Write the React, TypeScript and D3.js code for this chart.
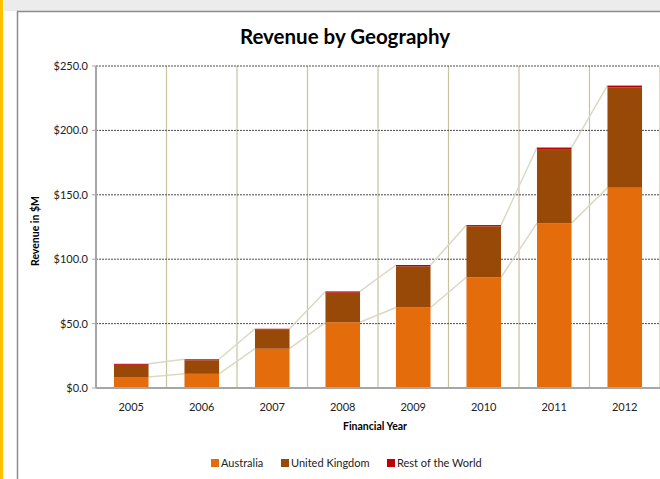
import React from "react";
import * as d3 from "d3";

const years = ["2005", "2006", "2007", "2008", "2009", "2010", "2011", "2012"];
const australia = [8.5, 11, 30.5, 51, 62.5, 86, 128, 155.5];
const unitedKingdom = [9.5, 10.5, 14.8, 23, 32, 39.5, 57.5, 78];
const restOfWorld = [0.8, 0.8, 0.7, 1, 1, 1, 1.2, 1.3];
const seriesNames = ["Australia", "United Kingdom", "Rest of the World"];
const seriesColors = ["#e46c0a", "#984807", "#c00000"];
const yTicks = [0, 50, 100, 150, 200, 250];

const W = 660;
const H = 479;
const plot = { left: 96, right: 660, top: 66, bottom: 388 };
const font = "Lato, 'Open Sans', sans-serif";

export default function App() {
  const x = d3.scaleBand<string>().domain(years).range([plot.left, plot.right]).padding(0);
  const y = d3.scaleLinear().domain([0, 250]).range([plot.bottom, plot.top]);
  const barW = x.bandwidth() * 0.49;

  const rows = years.map((yr, i) => ({
    year: yr,
    Australia: australia[i],
    "United Kingdom": unitedKingdom[i],
    "Rest of the World": restOfWorld[i],
  }));
  const stack = d3.stack<any>().keys(seriesNames)(rows);

  const barLeft = (yr: string) => (x(yr) as number) + (x.bandwidth() - barW) / 2;

  // series lines: Australia top and total top
  const seriesLineLevels = [stack[0], stack[2]];

  const legendItems = [
    { name: "Australia", sx: 211, tx: 221 },
    { name: "United Kingdom", sx: 281, tx: 291 },
    { name: "Rest of the World", sx: 387, tx: 397 },
  ];

  return (
    <svg width={W} height={H} style={{ display: "block", position: "absolute", left: 0, top: 0 }}>
      <rect x={0} y={0} width={W} height={H} fill="#ffffff" />
      <rect x={4} y={0} width={W} height={11} fill="#ececec" />
      <rect x={0} y={0} width={3} height={H} fill="#ffc000" />
      <rect x={17.5} y={11.5} width={W} height={H} fill="#ffffff" stroke="#8c8c8c" strokeWidth={1.5} />

      <text x={345} y={44} textAnchor="middle" fontFamily={font} fontWeight="bold" fontSize={20.5} fill="#000">
        Revenue by Geography
      </text>

      {/* vertical gridlines */}
      {years.map((yr) => {
        const gx = (x(yr) as number) + x.bandwidth();
        return <line key={"vg" + yr} x1={gx} x2={gx} y1={plot.top} y2={plot.bottom} stroke="#c9c29f" strokeWidth={1.2} />;
      })}

      {/* horizontal dashed gridlines */}
      {yTicks.filter((t) => t > 0).map((t) => (
        <line key={"hg" + t} x1={plot.left} x2={plot.right} y1={y(t)} y2={y(t)} stroke="#4a4a4a" strokeWidth={1} strokeDasharray="2,1" />
      ))}

      {/* series lines */}
      {seriesLineLevels.map((lvl, k) =>
        years.slice(0, -1).map((yr, i) => (
          <line
            key={"sl" + k + "-" + i}
            x1={barLeft(yr) + barW}
            y1={y(lvl[i][1])}
            x2={barLeft(years[i + 1])}
            y2={y(lvl[i + 1][1])}
            stroke="#ddd8c4"
            strokeWidth={1.5}
          />
        ))
      )}

      {/* bars */}
      {stack.map((s, si) =>
        s.map((d, i) => (
          <rect
            key={"b" + si + "-" + i}
            x={barLeft(years[i])}
            y={y(d[1])}
            width={barW}
            height={Math.max(0, y(d[0]) - y(d[1]))}
            fill={seriesColors[si]}
          />
        ))
      )}

      {/* axes */}
      <line x1={plot.left} x2={plot.left} y1={plot.top} y2={plot.bottom} stroke="#a6a6a6" strokeWidth={2} />
      <line x1={plot.left} x2={plot.right} y1={plot.bottom} y2={plot.bottom} stroke="#a6a6a6" strokeWidth={2} />
      {yTicks.map((t) => (
        <g key={"yt" + t}>
          <line x1={plot.left - 4} x2={plot.left} y1={y(t)} y2={y(t)} stroke="#a6a6a6" strokeWidth={1} />
          <text x={plot.left - 8} y={y(t) + 4} textAnchor="end" fontFamily={font} fontSize={11} fill="#222">
            {"$" + d3.format(".1f")(t)}
          </text>
        </g>
      ))}
      {years.map((yr) => (
        <text key={"xl" + yr} x={(x(yr) as number) + x.bandwidth() / 2} y={411} textAnchor="middle" fontFamily={font} fontSize={11} fill="#222">
          {yr}
        </text>
      ))}

      <text x={375} y={430} textAnchor="middle" fontFamily={font} fontWeight="bold" fontSize={10.5} fill="#000">
        Financial Year
      </text>
      <text
        transform="translate(39,231) rotate(-90)"
        textAnchor="middle"
        fontFamily={font}
        fontWeight="bold"
        fontSize={10.5}
        fill="#000"
      >
        Revenue in $M
      </text>

      {/* legend */}
      {legendItems.map((li, i) => (
        <g key={"lg" + i}>
          <rect x={li.sx} y={459} width={8} height={8} fill={seriesColors[i]} />
          <text x={li.tx} y={467} fontFamily={font} fontSize={11} fill="#222">
            {li.name}
          </text>
        </g>
      ))}
    </svg>
  );
}
